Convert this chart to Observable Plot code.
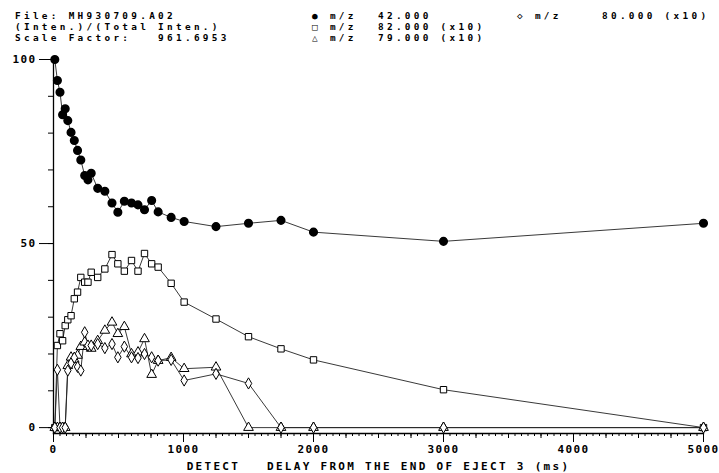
<!DOCTYPE html>
<html>
<head>
<meta charset="utf-8">
<script src="https://cdn.jsdelivr.net/npm/d3@7"></script>
<script src="https://cdn.jsdelivr.net/npm/@observablehq/plot@0.6"></script>
<style>
  html, body { margin: 0; padding: 0; background: #fff; }
  #wrap { width: 719px; height: 473px; overflow: hidden; }
  #header { position: relative; width: 719px; height: 45px; font-family: "DejaVu Sans Mono", monospace; font-size: 9.4px; font-weight: bold; letter-spacing: 3.3px; color: #000; line-height: 11px; }
  #header span { position: absolute; display: block; height: 11px; line-height: 11px; white-space: pre; }
  svg text { white-space: pre; }
  g[aria-label="x-axis label"] text { letter-spacing: 2.3px; }
</style>
</head>
<body>
<div id="wrap">
  <div id="header"></div>
  <div id="chart"></div>
</div>
<script>
// ---- data ----
const times = [10, 30, 50, 70, 90, 110, 135, 160, 185, 210, 240, 265, 290, 340, 395, 450, 495, 545, 600, 650, 700, 755, 805, 905, 1005, 1250, 1500, 1750, 2000, 3000, 5000];
const m42 = [100, 94.3, 91.1, 85, 86.6, 83.4, 80.2, 78, 75.3, 72.7, 68.5, 67.3, 69.1, 65, 64.2, 61, 58.5, 61.5, 61, 60.5, 59.2, 61.7, 58.6, 57.1, 56, 54.6, 55.5, 56.3, 53.1, 50.6, 55.5];
const m82 = [0, 22.3, 25.5, 23.6, 27.7, 29.3, 30.4, 35, 36.8, 40.8, 39.5, 39.5, 42.2, 40.8, 43.1, 47, 44.5, 42.5, 45.4, 42.5, 47.3, 44.5, 43.6, 39.2, 34.1, 29.5, 24.7, 21.4, 18.4, 10.3, 0];
const m79 = [0, 0, 0, 0, 0, 16.8, 19.1, 18.5, 19.6, 22, 23.2, 22, 21.5, 23.6, 26.4, 28.6, 25.5, 27.4, 20, 20.5, 24.1, 14.4, 18.2, 19, 16, 16.4, 0, 0, 0, 0, 0];
const m80 = [0, 15.7, 0, 0, 0, 15.5, 17.5, 19, 16.5, 15.5, 25.9, 22.3, 22.3, 22.7, 21.6, 22.7, 19.1, 22, 19.1, 18.9, 20, 19.1, 18.2, 18.4, 12.8, 14.6, 12, 0, 0, 0, 0];

const xMajorTicks = [0, 1000, 2000, 3000, 4000, 5000];
const yMajorTicks = [0, 50, 100];

const infoLines = ["File: MH930709.A02", "(Inten.)/(Total Inten.)", "Scale Factor:   961.6953"];
const legendSymbols = ["\u25CF", "\u25A1", "\u25B3", "\u25C7"];
const legendMasses = ["42.000", "82.000 (x10)", "79.000 (x10)", "80.000 (x10)"];
const xTitle = "DETECT   DELAY FROM THE END OF EJECT 3 (ms)";

// ---- header (text above the svg) ----
const header = document.getElementById("header");
function addSpan(text, left, top) {
  const s = document.createElement("span");
  s.textContent = text;
  s.style.left = left + "px";
  s.style.top = top + "px";
  header.appendChild(s);
}
infoLines.forEach((t, i) => addSpan(t, 15, 10 + i * 11));
[0, 1, 2].forEach(i => {
  addSpan(legendSymbols[i] + " m/z", 312, 10 + i * 11);
  addSpan(legendMasses[i], 378, 10 + i * 11);
});
addSpan(legendSymbols[3] + " m/z", 517, 10);
addSpan(legendMasses[3], 602, 10);

// ---- table built from the arrays ----
const series = [
  {key: "42", values: m42},
  {key: "82", values: m82},
  {key: "79", values: m79},
  {key: "80", values: m80}
];
const rows = series.flatMap(s => times.map((t, i) => ({t, v: s.values[i], s: s.key})));
const of = k => rows.filter(d => d.s === k);

const chart = Plot.plot({
  width: 719,
  height: 428,
  marginLeft: 53,
  marginRight: 16,
  marginTop: 14,
  marginBottom: 40,
  style: {fontFamily: "DejaVu Sans Mono, monospace", fontSize: "11px", fontWeight: "bold", letterSpacing: "1.4px", color: "#000", background: "#fff", overflow: "visible"},
  x: {domain: [0, 5000]},
  y: {domain: [-1.6, 100]},
  marks: [
    Plot.frame({anchor: "left", stroke: "#000", strokeWidth: 1.3}),
    Plot.frame({anchor: "bottom", stroke: "#000", strokeWidth: 1.3}),
    Plot.axisY({ticks: d3.range(0, 101, 10), tickSize: 5, tickFormat: () => "", label: null}),
    Plot.axisY({ticks: yMajorTicks, tickSize: 14, tickPadding: 3, tickFormat: "d", label: null}),
    Plot.axisX({ticks: d3.range(0, 5001, 50), tickSize: 3, tickFormat: () => "", label: null}),
    Plot.axisX({ticks: d3.range(0, 5001, 250), tickSize: 5, tickFormat: () => "", label: null}),
    Plot.axisX({ticks: xMajorTicks, tickSize: 9, tickPadding: 3, tickFormat: "d", label: xTitle, labelAnchor: "center", labelOffset: 36, labelArrow: "none"}),
    ...series.map(s => Plot.line(of(s.key), {x: "t", y: "v", stroke: "#222", strokeWidth: 0.9})),
    Plot.dot(of("42"), {x: "t", y: "v", symbol: "circle", r: 3.8, fill: "#000", stroke: "#000"}),
    Plot.dot(of("82"), {x: "t", y: "v", symbol: "square", r: 3.6, fill: "#fff", stroke: "#000", strokeWidth: 1}),
    Plot.dot(of("79"), {x: "t", y: "v", symbol: "triangle", r: 3.6, fill: "#fff", stroke: "#000", strokeWidth: 1}),
    Plot.dot(of("80"), {x: "t", y: "v", symbol: "diamond", r: 3.4, fill: "#fff", stroke: "#000", strokeWidth: 1})
  ]
});
document.getElementById("chart").appendChild(chart);
</script>
</body>
</html>
